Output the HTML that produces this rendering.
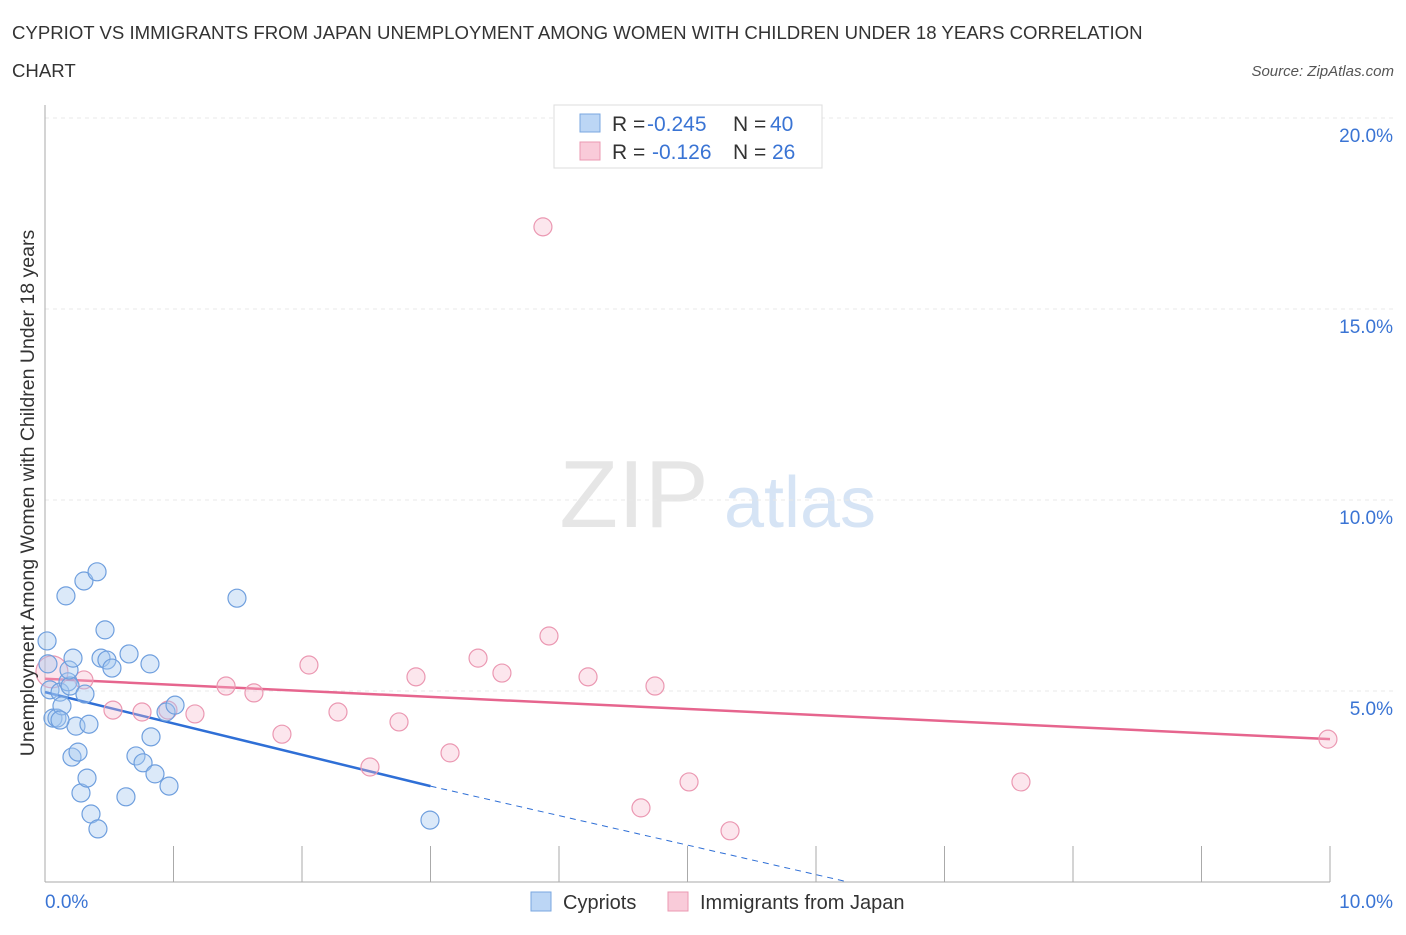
<!DOCTYPE html>
<html><head><meta charset="utf-8"><style>
body{margin:0;background:#fff;font-family:"Liberation Sans",sans-serif;}
svg text{font-family:"Liberation Sans",sans-serif;}
</style></head><body>
<svg id="c" width="1406" height="930" xmlns="http://www.w3.org/2000/svg">
<text x="12" y="39" font-size="18.6" fill="#333">CYPRIOT VS IMMIGRANTS FROM JAPAN UNEMPLOYMENT AMONG WOMEN WITH CHILDREN UNDER 18 YEARS CORRELATION</text>
<text x="12" y="77" font-size="18.6" fill="#333">CHART</text>
<text x="1394" y="76" font-size="15" fill="#555" font-style="italic" text-anchor="end">Source: ZipAtlas.com</text>
<text x="634" y="527" font-size="96" fill="#e6e6e6" text-anchor="middle" font-family="Liberation Serif">ZIP</text>
<text x="800" y="527" font-size="72" fill="#d6e4f5" text-anchor="middle">atlas</text>
<g id="grid"></g>
<g id="axes"></g>
<g id="lines"></g>
<g id="pts"></g>
<text x="34" y="493" font-size="19.5" fill="#333" text-anchor="middle" transform="rotate(-90 34 493)">Unemployment Among Women with Children Under 18 years</text>
<g>
<rect x="554" y="105" width="268" height="63" fill="#fff" stroke="#ddd"/>
<rect x="580" y="114" width="20" height="18" fill="#bcd6f5" stroke="#7aa7e0"/>
<text x="612" y="131" font-size="21" fill="#333">R = </text><text x="647" y="131" font-size="21" fill="#3a74d4">-0.245</text>
<text x="733" y="131" font-size="21" fill="#333">N = </text><text x="770" y="131" font-size="21" fill="#3a74d4">40</text>
<rect x="580" y="142" width="20" height="18" fill="#f9cbd9" stroke="#eb98b2"/>
<text x="612" y="159" font-size="21" fill="#333">R = </text><text x="652" y="159" font-size="21" fill="#3a74d4">-0.126</text>
<text x="733" y="159" font-size="21" fill="#333">N = </text><text x="772" y="159" font-size="21" fill="#3a74d4">26</text>
</g>
<g>
<rect x="531" y="892" width="20" height="19" fill="#bcd6f5" stroke="#7aa7e0"/>
<text x="563" y="909" font-size="20" fill="#333">Cypriots</text>
<rect x="668" y="892" width="20" height="19" fill="#f9cbd9" stroke="#eb98b2"/>
<text x="700" y="909" font-size="20" fill="#333">Immigrants from Japan</text>
</g>
</svg>
<script>
const yTicks=[5,10,15,20];
const xTickLabels=["0.0%","10.0%"];
const blueX=[0.016,0.023,0.039,0.062,0.117,0.093,0.132,0.163,0.179,0.195,0.187,0.218,0.210,0.241,0.257,0.280,0.303,0.327,0.342,0.358,0.405,0.412,0.436,0.467,0.482,0.521,0.630,0.654,0.708,0.763,0.817,0.825,0.856,0.942,0.965,1.012,1.494,2.996,0.117,0.311];
const blueY=[6.31,5.71,5.03,4.29,4.97,4.29,4.61,7.49,5.24,5.13,5.55,5.86,3.27,4.08,3.40,2.33,7.88,2.72,4.13,1.78,8.12,1.39,5.86,6.60,5.81,5.60,2.23,5.97,3.30,3.12,5.71,3.80,2.83,4.45,2.51,4.63,7.43,1.62,4.24,4.92];
const pinkX=[0.054,0.303,0.529,0.755,0.957,1.167,1.409,1.626,1.844,2.054,2.280,2.529,2.755,2.887,3.152,3.370,3.556,3.875,3.922,4.226,4.638,4.747,5.012,5.331,7.595,9.984];
const pinkY=[5.50,5.29,4.50,4.45,4.50,4.40,5.13,4.95,3.87,5.68,4.45,3.01,4.19,5.37,3.38,5.86,5.47,17.15,6.44,5.37,1.94,5.13,2.62,1.34,2.62,3.74];
const blueLine=[0,4.97,3.0,2.51,6.25,0];
const pinkLine=[0,5.32,10,3.74];
const X=v=>45+v*128.5, Y=v=>882-v*38.2;
const NS="http://www.w3.org/2000/svg";
function mk(p,t,a){const e=document.createElementNS(NS,t);for(const k in a)e.setAttribute(k,a[k]);p.appendChild(e);return e;}
const grid=document.getElementById('grid'),axes=document.getElementById('axes'),lines=document.getElementById('lines'),pts=document.getElementById('pts');
yTicks.forEach(v=>{const l=mk(grid,'line',{x1:45,x2:1394,y1:Y(v),y2:Y(v),stroke:'#e8e8e8','stroke-dasharray':'4 4'});


const t=mk(axes,'text',{x:1393,y:Y(v)+24,'font-size':19,fill:'#3a74d4','text-anchor':'end'});t.textContent=v.toFixed(1)+'%';

});
const ax=mk(axes,'line',{x1:45,x2:1330,y1:882,y2:882,stroke:'#aaa'});


const ay=mk(axes,'line',{x1:45,x2:45,y1:105,y2:882,stroke:'#aaa'});


for(let i=0;i<=10;i++){const t=mk(axes,'line',{x1:X(i),x2:X(i),y1:846,y2:882,stroke:'#aaa'});

}
[[0,'start',45],[10,'end',1393]].forEach((d,i)=>{const t=mk(axes,'text',{x:d[2],y:908,'font-size':19,fill:'#3a74d4','text-anchor':d[1]});t.textContent=xTickLabels[i];

});
let l=mk(lines,'line',{x1:X(blueLine[0]),y1:Y(blueLine[1]),x2:X(blueLine[2]),y2:Y(blueLine[3]),stroke:'#2f6fd6','stroke-width':2.5});


l=mk(lines,'line',{x1:X(blueLine[2]),y1:Y(blueLine[3]),x2:X(blueLine[4]),y2:Y(blueLine[5]),stroke:'#2f6fd6','stroke-width':1,'stroke-dasharray':'6 5'});


l=mk(lines,'line',{x1:X(pinkLine[0]),y1:Y(pinkLine[1]),x2:X(pinkLine[2]),y2:Y(pinkLine[3]),stroke:'#e6658e','stroke-width':2.5});


pinkX.forEach((x,i)=>{const c=mk(pts,'circle',{cx:X(x),cy:Y(pinkY[i]),r:i==0?16:9,fill:'rgba(246,182,203,0.35)',stroke:'#eb98b2','stroke-width':1.2});

});
blueX.forEach((x,i)=>{const c=mk(pts,'circle',{cx:X(x),cy:Y(blueY[i]),r:9,fill:'rgba(164,199,240,0.4)',stroke:'#6f9fde','stroke-width':1.2});

});
</script>
</body></html>
